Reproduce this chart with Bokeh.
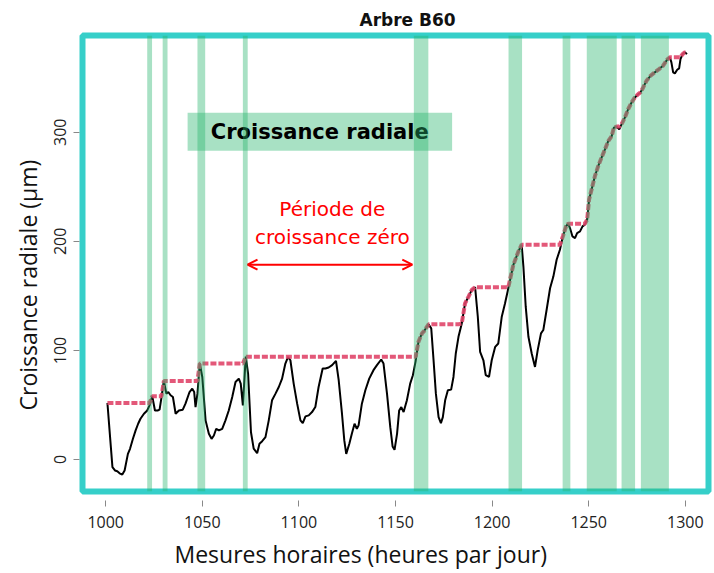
import numpy as np
from bokeh.plotting import figure
from bokeh.models import BoxAnnotation, Label, Arrow, OpenHead, Range1d, FixedTicker, Title
from bokeh.embed import file_html
from bokeh.resources import INLINE

# ---- data (hour index, radial growth in µm) ----
hours = [1000.9, 1002.0, 1003.5, 1004.8, 1006.0, 1007.2, 1008.6, 1009.8, 1011.5, 1012.6,
         1014.1, 1015.5, 1016.8, 1018.0, 1019.8, 1021.5, 1022.7, 1024.1, 1025.5, 1026.9,
         1027.9, 1028.9, 1030.1, 1031.4, 1032.4, 1033.6, 1034.8, 1036.2, 1037.9, 1039.9,
         1041.3, 1043.4, 1044.8, 1045.8, 1046.5, 1047.5, 1048.7, 1050.0, 1051.7, 1053.4,
         1054.8, 1056.0, 1057.2, 1058.6, 1060.3, 1062.0, 1063.7, 1065.5, 1067.2, 1068.9,
         1069.9, 1071.0, 1072.5, 1073.7, 1075.2, 1076.6, 1078.4, 1079.6, 1081.0, 1082.7,
         1084.4, 1086.1, 1087.9, 1089.6, 1091.3, 1093.0, 1094.4, 1095.6, 1097.3, 1099.1,
         1100.8, 1102.0, 1103.4, 1105.1, 1106.8, 1108.5, 1110.2, 1112.3, 1113.7, 1115.4,
         1117.2, 1119.2, 1120.6, 1122.3, 1123.5, 1124.5, 1126.1, 1127.4, 1128.8, 1130.0,
         1130.9, 1132.6, 1134.4, 1136.4, 1138.6, 1140.4, 1142.6, 1143.8, 1145.6, 1147.3,
         1148.5, 1149.5, 1150.8, 1151.9, 1153.0, 1154.2, 1155.9, 1157.6, 1159.0, 1160.4,
         1161.9, 1163.7, 1164.9, 1167.1, 1168.5, 1169.7, 1170.9, 1172.3, 1173.5, 1174.5,
         1175.7, 1177.1, 1178.8, 1180.0, 1181.2, 1182.6, 1184.3, 1186.0, 1187.8, 1189.5,
         1191.2, 1192.6, 1193.8, 1195.5, 1196.7, 1198.4, 1199.8, 1201.6, 1203.2, 1205.0,
         1206.7, 1208.4, 1211.0, 1213.6, 1215.3, 1216.2, 1217.4, 1218.8, 1220.5, 1222.2,
         1223.6, 1225.3, 1226.5, 1228.2, 1230.0, 1231.7, 1233.4, 1235.1, 1236.7, 1238.3,
         1239.4, 1240.3, 1241.6, 1242.9, 1244.0, 1245.5, 1246.8, 1248.0, 1249.2, 1250.2,
         1251.5, 1253.2, 1254.9, 1256.6, 1258.4, 1260.1, 1261.9, 1263.0, 1264.4, 1265.8,
         1267.0, 1268.7, 1270.4, 1272.2, 1273.9, 1275.6, 1276.8, 1278.2, 1279.9, 1282.0,
         1284.2, 1286.4, 1288.5, 1290.6, 1292.0, 1292.8, 1293.7, 1294.6, 1295.8, 1296.8,
         1297.5, 1298.6, 1299.7, 1300.9]
radial = [51.8, 26.7, -7.0, -10.0, -10.7, -12.6, -13.8, -10.0, 5.2, 9.8,
          19.0, 26.7, 32.8, 37.4, 42.0, 45.0, 49.7, 58.0, 45.0, 45.0,
          45.7, 57.3, 72.0, 60.4, 61.9, 58.9, 57.3, 42.0, 45.0, 45.7,
          51.2, 61.9, 65.0, 61.9, 48.1, 60.4, 88.0, 75.7, 35.9, 23.6,
          19.0, 22.0, 28.2, 26.7, 28.2, 35.9, 45.0, 57.3, 71.1, 74.2,
          69.6, 49.7, 94.3, 78.8, 25.0, 10.0, 5.8, 14.4, 16.8, 20.5,
          35.9, 54.3, 60.4, 66.5, 74.2, 88.0, 94.0, 91.0, 69.6, 51.2,
          35.9, 33.4, 39.6, 40.5, 43.5, 48.1, 66.5, 83.4, 83.4, 84.4,
          86.5, 90.4, 72.7, 42.0, 17.5, 5.2, 14.4, 23.6, 32.8, 28.2,
          31.3, 51.2, 63.5, 74.2, 81.9, 86.5, 91.7, 88.0, 60.4, 29.7,
          12.0, 8.9, 23.6, 45.0, 48.1, 43.5, 54.3, 69.6, 77.3, 90.0,
          108.0, 115.6, 118.0, 123.9, 120.2, 91.0, 60.4, 38.9, 33.4, 38.9,
          54.3, 63.5, 64.1, 75.7, 97.2, 112.5, 124.8, 143.2, 149.3, 155.5,
          158.0, 130.9, 98.7, 91.0, 77.3, 75.7, 91.0, 103.3, 106.4, 130.9,
          143.2, 157.0, 178.5, 190.7, 196.9, 176.9, 140.1, 112.5, 97.2, 84.9,
          100.3, 115.6, 118.7, 137.1, 157.0, 167.7, 183.1, 192.3, 205.0, 214.0,
          216.2, 212.2, 204.5, 203.0, 207.6, 209.1, 213.7, 215.3, 219.9, 238.3,
          247.5, 259.7, 268.9, 276.6, 284.3, 291.9, 296.5, 304.2, 305.2, 302.7,
          307.3, 313.4, 321.1, 327.3, 331.9, 334.9, 336.5, 341.1, 347.2, 351.8,
          354.9, 357.9, 361.0, 366.6, 368.7, 364.1, 354.9, 354.0, 357.3, 358.6,
          367.1, 371.7, 373.2, 371.7]

# growth periods (green bands), in hours
band_start = [1021.5, 1029.5, 1047.5, 1071.0, 1159.5, 1208.5, 1236.5, 1249.0, 1267.0, 1277.0]
band_end = [1024.0, 1032.0, 1051.5, 1073.5, 1167.0, 1215.5, 1240.5, 1264.5, 1274.0, 1291.5]

x_ticks = [1000, 1050, 1100, 1150, 1200, 1250, 1300]
y_ticks = [0, 100, 200, 300]

# growth line = running maximum of the dendrometer curve (zero-growth concept)
growth = np.maximum.accumulate(np.array(radial))

GREEN = "#26b56b"
TEAL = "#36cfc9"
FONT = "Open Sans"

p = figure(frame_width=626, frame_height=456, output_backend="svg", toolbar_location=None,
           x_range=Range1d(988.0, 1312.0), y_range=Range1d(-29.3, 388.7),
           min_border_left=82, min_border_right=6, min_border_top=35, min_border_bottom=82)

p.add_layout(Title(text="Arbre B60", align="left", offset=277, standoff=11,
                   text_font="DejaVu Sans", text_font_style="bold", text_font_size="17px",
                   text_color="#111111"), "above")

p.outline_line_color = TEAL
p.outline_line_width = 6
p.xgrid.visible = False
p.ygrid.visible = False

for ax in (p.xaxis[0], p.yaxis[0]):
    ax.axis_line_color = None
    ax.major_tick_line_color = "#888888"
    ax.minor_tick_line_color = None
    ax.major_label_text_font = FONT
    ax.major_label_text_font_size = "16px"
    ax.major_label_text_color = "#222222"

p.xaxis.ticker = FixedTicker(ticks=x_ticks)
p.yaxis.ticker = FixedTicker(ticks=y_ticks)
p.xaxis.major_tick_in = -9
p.xaxis.major_tick_out = 15
p.xaxis.major_label_standoff = 9
p.yaxis.major_tick_in = -3
p.yaxis.major_tick_out = 9
p.yaxis.major_label_standoff = 7
p.yaxis.major_label_orientation = "vertical"

# axis titles (placed like in the original slide)
p.add_layout(Title(text="Mesures horaires (heures par jour)", align="left", offset=92,
                   standoff=10, text_font=FONT, text_font_style="normal",
                   text_font_size="23px", text_color="#111111"), "below")
p.add_layout(Title(text="Croissance radiale (µm)", align="left", offset=81,
                   standoff=16, text_font=FONT, text_font_style="normal",
                   text_font_size="23px", text_color="#111111"), "left")

# curves
p.line(hours, radial, line_color="black", line_width=2)
p.line(hours, growth, line_color="#e0466a", line_width=4, line_dash="6 2", line_alpha=0.9)

# "Croissance radiale" legend box
p.add_layout(BoxAnnotation(left=1042.4, right=1179.3, bottom=283.0, top=317.8,
                           fill_color=GREEN, fill_alpha=0.4, line_color=None))
p.add_layout(Label(x=1110.8, y=300.4, text="Croissance radiale", text_align="center",
                   text_baseline="middle", text_font="DejaVu Sans", text_font_style="bold",
                   text_font_size="21px", text_color="black"))

# zero growth annotation
p.add_layout(Label(x=1117.3, y=229.9, text="Période de", text_align="center",
                   text_baseline="middle", text_font="DejaVu Sans", text_font_size="20px",
                   text_color="#ff0000"))
p.add_layout(Label(x=1117.3, y=204.2, text="croissance zéro", text_align="center",
                   text_baseline="middle", text_font="DejaVu Sans", text_font_size="20px",
                   text_color="#ff0000"))
p.add_layout(Arrow(start=OpenHead(size=10, line_color="#ff0000", line_width=2),
                   end=OpenHead(size=10, line_color="#ff0000", line_width=2),
                   x_start=1073.4, x_end=1158.7, y_start=178.6, y_end=178.6,
                   line_color="#ff0000", line_width=2))

# growth bands on top
for s, e in zip(band_start, band_end):
    p.add_layout(BoxAnnotation(left=s, right=e, fill_color=GREEN, fill_alpha=0.4,
                               line_color=None))

open("out.html", "w").write(file_html(p, INLINE))
